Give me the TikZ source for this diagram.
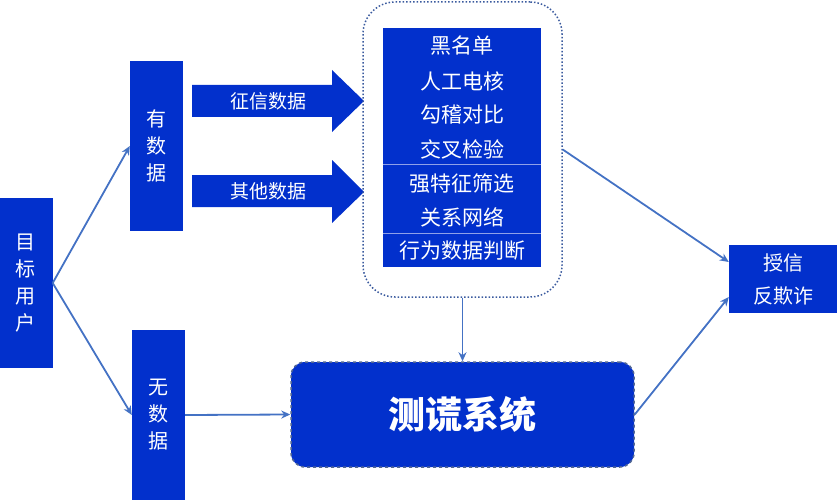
\documentclass[tikz,border=0pt]{standalone}
\usepackage{fontspec}
\newfontfamily\cjk{Noto Sans CJK SC}
\usetikzlibrary{arrows.meta}
\definecolor{boxblue}{HTML}{0230CC}
\definecolor{linkblue}{HTML}{4472C4}
\definecolor{dotblue}{HTML}{3A5A9E}
\definecolor{divline}{HTML}{8FA0E8}
\begin{document}
\begin{tikzpicture}[x=1pt,y=-1pt,
  bluebox/.style={fill=boxblue,text=white,inner sep=0pt,font=\cjk\fontsize{20}{27}\selectfont,align=center},
  listtext/.style={text=white,inner sep=0pt,font=\cjk\fontsize{21}{25}\selectfont},
  link/.style={draw=linkblue,line width=1.8pt,-{Stealth[length=9pt,width=8pt]}},
  blockarrow/.style={fill=boxblue},
]
\useasboundingbox (0,0) rectangle (837,500);
% left boxes
\node[bluebox,minimum width=53pt,minimum height=170pt] (user) at (26,283) {目\\标\\用\\户};
\node[bluebox,minimum width=53pt,minimum height=170pt] (has) at (156.5,146) {有\\数\\据};
\node[bluebox,minimum width=53pt,minimum height=170pt] (none) at (158.5,415) {无\\数\\据};
% block arrows
\fill[blockarrow] (192,85) -- (332,85) -- (332,70) -- (364,101) -- (332,132) -- (332,117) -- (192,117) -- cycle;
\node[listtext,font=\cjk\fontsize{19}{22}\selectfont] (a1) at (268,101) {征信数据};
\fill[blockarrow] (192,175) -- (332,175) -- (332,160) -- (364,192) -- (332,223) -- (332,207) -- (192,207) -- cycle;
\node[listtext,font=\cjk\fontsize{19}{22}\selectfont] (a2) at (268,191) {其他数据};
% dotted container
\node[draw=dotblue,dotted,line width=1.5pt,rounded corners=32pt,minimum width=199pt,minimum height=295pt,inner sep=0pt] (group) at (462.5,149.5) {};
\node[fill=boxblue,minimum width=158pt,minimum height=239pt,inner sep=0pt] (list) at (462,147.5) {};
\draw[divline,line width=1pt] (383,164) -- (541,164);
\draw[divline,line width=1pt] (383,233) -- (541,233);
\node[listtext] (l1) at (462,46) {黑名单};
\node[listtext] (l2) at (462,81) {人工电核};
\node[listtext] (l3) at (462,115) {勾稽对比};
\node[listtext] (l4) at (462,149) {交叉检验};
\node[listtext] (l5) at (462,184) {强特征筛选};
\node[listtext] (l6) at (462,217) {关系网络};
\node[listtext] (l7) at (462,251) {行为数据判断};
% lie detection system
\node[fill=boxblue,draw=dotblue!70!gray,dashed,line width=1.5pt,rounded corners=14pt,minimum width=343pt,minimum height=105pt,inner sep=0pt,text=white,font=\cjk\bfseries\fontsize{37}{40}\selectfont] (lie) at (462.5,414.5) {测谎系统};
% output
\node[bluebox,minimum width=108pt,minimum height=68pt,font=\cjk\fontsize{20}{33}\selectfont] (grant) at (783,279) {授信\\反欺诈};
% connectors
\draw[link] (user.east) -- (has.west);
\draw[link] (user.east) -- (none.west);
\draw[link] (none.east) -- (lie.west);
\draw[link] (group.south) -- (lie.north);
\draw[link] (group.east) -- ([yshift=17pt]grant.west);
\draw[link] (lie.east) -- ([yshift=-18pt]grant.west);
\end{tikzpicture}
\end{document}
